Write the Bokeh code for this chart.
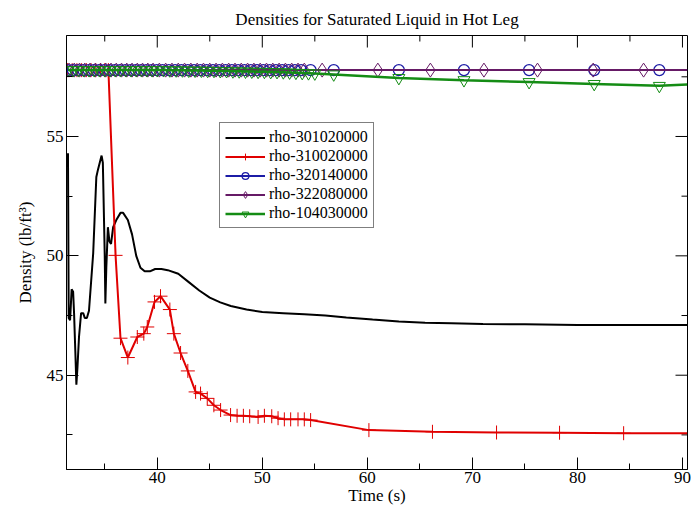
import math
from bokeh.plotting import figure
from bokeh.models import (Range1d, LinearAxis, FixedTicker, Legend, LegendItem)
from bokeh.embed import file_html
from bokeh.resources import INLINE

FONT = "Liberation Serif"

TITLE = "Densities for Saturated Liquid in Hot Leg"
X_LABEL = "Time (s)"
Y_LABEL = "Density (lb/ft\u00b3)"

X_MAJOR = [40, 50, 60, 70, 80, 90]
X_MINOR = [35, 45, 55, 65, 75, 85]
Y_MAJOR = [45, 50, 55]
Y_MINOR = [42.5, 47.5, 52.5, 57.5]

# rho-301020000 (black, no markers)
BLACK_T = [31.50, 31.57, 31.70, 31.85, 31.99, 32.08, 32.20, 32.30, 32.40, 32.55, 32.75,
           32.95, 33.10, 33.30, 33.50, 33.90, 34.20, 34.35, 34.70, 34.82, 35.00, 35.06,
           35.15, 35.30, 35.45, 35.60, 35.80, 36.10, 36.50, 36.75, 37.20, 37.60, 38.00,
           38.40, 38.80, 39.30, 39.80, 40.40, 41.00, 42.00, 43.00, 44.00, 45.00, 46.00,
           47.00, 48.50, 50.00, 52.00, 54.00, 56.00, 58.00, 60.50, 63.00, 65.50, 68.00,
           71.00, 75.00, 80.00, 85.00, 90.45]
BLACK_Y = [54.30, 47.40, 47.30, 48.60, 48.50, 47.60, 46.00, 44.60, 45.30, 46.60, 47.60,
           47.60, 47.40, 47.40, 47.70, 50.10, 53.30, 53.60, 54.20, 53.90, 50.00, 48.00,
           49.50, 51.20, 50.60, 50.50, 51.20, 51.50, 51.80, 51.80, 51.50, 50.90, 50.00,
           49.50, 49.35, 49.35, 49.45, 49.45, 49.40, 49.25, 48.90, 48.55, 48.25, 48.05,
           47.90, 47.75, 47.65, 47.60, 47.55, 47.50, 47.42, 47.33, 47.25, 47.20, 47.18,
           47.15, 47.13, 47.10, 47.10, 47.10]

# rho-310020000 (red, plus markers)
RED_T = [31.45, 31.90, 32.35, 32.80, 33.25, 33.70, 34.15, 34.60, 35.00, 35.35, 36.03,
         36.50, 37.20, 38.10, 38.72, 39.05, 39.74, 40.31, 41.20, 41.58, 42.22, 42.91,
         43.65, 44.12, 44.76, 45.39, 46.03, 46.98, 47.60, 48.20, 48.80, 49.60, 50.20,
         50.90, 51.50, 52.10, 52.70, 53.40, 54.00, 54.60, 60.15, 66.20, 72.30, 78.30,
         84.40, 90.45]
RED_Y = [57.78, 57.78, 57.78, 57.78, 57.78, 57.78, 57.78, 57.78, 57.78, 57.78, 50.02,
         46.55, 45.74, 46.60, 46.74, 47.02, 48.07, 48.31, 47.75, 46.74, 45.93, 45.18,
         44.30, 44.23, 44.03, 43.74, 43.54, 43.33, 43.30, 43.30, 43.28, 43.25, 43.30,
         43.28, 43.20, 43.15, 43.15, 43.15, 43.15, 43.12, 42.70, 42.63, 42.60, 42.59,
         42.57, 42.57]

# rho-320140000 (blue, circles)
BLUE_T = [31.45, 31.95, 32.45, 32.95, 33.45, 33.95, 34.45, 34.95, 35.45, 35.95, 36.45,
          36.95, 37.45, 37.95, 38.45, 38.95, 39.45, 39.95, 40.50, 41.10, 41.70, 42.30,
          42.90, 43.50, 44.10, 44.70, 45.30, 45.90, 46.50, 47.10, 47.70, 48.30, 48.90,
          49.50, 50.10, 50.70, 51.30, 51.90, 52.50, 53.10, 53.70, 54.60, 56.80, 63.00,
          69.20, 75.40, 81.60, 87.80, 90.45]
BLUE_Y = [57.78, 57.78, 57.78, 57.78, 57.78, 57.78, 57.78, 57.78, 57.78, 57.78, 57.78,
          57.78, 57.78, 57.78, 57.78, 57.78, 57.78, 57.78, 57.78, 57.78, 57.78, 57.78,
          57.78, 57.78, 57.78, 57.78, 57.78, 57.78, 57.78, 57.78, 57.78, 57.78, 57.78,
          57.78, 57.78, 57.78, 57.78, 57.78, 57.78, 57.78, 57.78, 57.78, 57.78, 57.78,
          57.78, 57.78, 57.78, 57.78, 57.78]

# rho-322080000 (purple, diamonds)
PURPLE_T = [31.60, 32.10, 32.60, 33.10, 33.60, 34.10, 34.60, 35.10, 35.60, 36.10, 36.60,
            37.10, 37.60, 38.10, 38.60, 39.10, 39.60, 40.20, 40.80, 41.40, 42.00, 42.60,
            43.20, 43.80, 44.40, 45.00, 45.60, 46.20, 46.80, 47.40, 48.00, 48.60, 49.20,
            49.80, 50.40, 51.00, 51.60, 52.20, 52.80, 53.40, 54.00, 55.70, 61.00, 66.00,
            71.10, 76.20, 81.50, 86.30, 90.45]
PURPLE_Y = [57.78, 57.78, 57.78, 57.78, 57.78, 57.78, 57.78, 57.78, 57.78, 57.78, 57.78,
            57.78, 57.78, 57.78, 57.78, 57.78, 57.78, 57.78, 57.78, 57.78, 57.78, 57.78,
            57.78, 57.78, 57.78, 57.78, 57.78, 57.78, 57.78, 57.78, 57.78, 57.78, 57.78,
            57.78, 57.78, 57.78, 57.78, 57.78, 57.78, 57.78, 57.78, 57.78, 57.78, 57.78,
            57.78, 57.78, 57.78, 57.78, 57.78]

# rho-104030000 (green, down triangles)
GREEN_T = [31.50, 32.00, 32.50, 33.00, 33.50, 34.00, 34.50, 35.00, 35.50, 36.00, 36.50,
           37.00, 37.50, 38.00, 38.50, 39.00, 39.50, 40.00, 40.60, 41.20, 41.80, 42.40,
           43.00, 43.60, 44.20, 44.80, 45.40, 46.00, 46.60, 47.20, 47.80, 48.40, 49.00,
           49.60, 50.20, 50.80, 51.40, 52.00, 52.60, 53.20, 53.80, 54.40, 55.00, 56.80,
           63.00, 69.20, 75.40, 81.60, 87.80, 90.45]
GREEN_Y = [57.78, 57.78, 57.78, 57.78, 57.78, 57.78, 57.78, 57.78, 57.78, 57.78, 57.78,
           57.78, 57.78, 57.78, 57.78, 57.78, 57.78, 57.78, 57.78, 57.77, 57.77, 57.77,
           57.76, 57.76, 57.76, 57.75, 57.75, 57.74, 57.74, 57.73, 57.73, 57.72, 57.72,
           57.71, 57.71, 57.70, 57.70, 57.69, 57.68, 57.67, 57.66, 57.65, 57.64, 57.60,
           57.45, 57.36, 57.28, 57.20, 57.12, 57.18]

NAMES = ["rho-301020000", "rho-310020000", "rho-320140000", "rho-322080000", "rho-104030000"]

BLACK = "#000000"
RED = "#e00000"
BLUE = "#1c1ca6"
PURPLE = "#661a66"
GREEN = "#148c14"

X0, X1 = 31.36, 90.48
Y0, Y1 = 41.05, 59.23

p = figure(width=692, height=510, output_backend="svg", toolbar_location=None,
           x_range=Range1d(X0, X1), y_range=Range1d(Y0, Y1),
           x_axis_type=None, y_axis_type=None,
           min_border_left=66, min_border_right=5, min_border_top=35, min_border_bottom=41)

p.background_fill_color = "white"
p.border_fill_color = "white"
p.outline_line_color = "black"
p.outline_line_width = 1

p.title.text = TITLE
p.title.align = "center"
p.title.text_font = FONT
p.title.text_font_size = "17px"
p.title.text_font_style = "normal"
p.title.text_color = "black"
p.title.standoff = 14


def style_axis(ax):
    ax.axis_line_color = "black"
    ax.axis_line_width = 1
    ax.major_tick_in = 12
    ax.major_tick_out = 0
    ax.minor_tick_in = 6
    ax.minor_tick_out = 0
    ax.major_tick_line_color = "black"
    ax.minor_tick_line_color = "black"
    ax.major_label_text_font = FONT
    ax.major_label_text_color = "black"
    ax.major_label_text_font_size = "17px"
    ax.major_label_standoff = 3
    ax.axis_label_text_font = FONT
    ax.axis_label_text_font_style = "normal"
    ax.axis_label_text_font_size = "17px"
    ax.axis_label_text_color = "black"


xb = LinearAxis(ticker=FixedTicker(ticks=X_MAJOR, minor_ticks=X_MINOR), axis_label=X_LABEL)
style_axis(xb)
xb.major_label_standoff = 2
xb.axis_label_standoff = 0
p.add_layout(xb, "below")

yl = LinearAxis(ticker=FixedTicker(ticks=Y_MAJOR, minor_ticks=Y_MINOR), axis_label=Y_LABEL)
style_axis(yl)
yl.axis_label_standoff = 9
p.add_layout(yl, "left")

# mirrored inward ticks on the top and right frame edges
p.ray(x=X_MAJOR, y=[Y1] * len(X_MAJOR), length=12, length_units="screen",
      angle=-math.pi / 2, line_color="black", line_width=1)
p.ray(x=X_MINOR, y=[Y1] * len(X_MINOR), length=6, length_units="screen",
      angle=-math.pi / 2, line_color="black", line_width=1)
p.ray(x=[X1] * len(Y_MAJOR), y=Y_MAJOR, length=12, length_units="screen",
      angle=math.pi, line_color="black", line_width=1)
p.ray(x=[X1] * len(Y_MINOR), y=Y_MINOR, length=6, length_units="screen",
      angle=math.pi, line_color="black", line_width=1)

r_black = p.line(BLACK_T, BLACK_Y, line_color=BLACK, line_width=2)

r_red = p.line(RED_T, RED_Y, line_color=RED, line_width=2)
m_red = p.scatter(RED_T[:-1], RED_Y[:-1], marker="cross", size=14, line_color=RED, line_width=1)

r_blue = p.line(BLUE_T, BLUE_Y, line_color=BLUE, line_width=2)
m_blue = p.scatter(BLUE_T[:-1], BLUE_Y[:-1], marker="circle", size=11, line_color=BLUE,
                   fill_color=None, line_width=1.3)

r_purple = p.line(PURPLE_T, PURPLE_Y, line_color=PURPLE, line_width=2)
m_purple = p.scatter(PURPLE_T[:-1], PURPLE_Y[:-1], marker="diamond", size=14, line_color=PURPLE,
                     fill_color=None, line_width=1)

r_green = p.line(GREEN_T, GREEN_Y, line_color=GREEN, line_width=2.5)
m_green = p.scatter(GREEN_T[:-1], GREEN_Y[:-1], marker="inverted_triangle", size=12,
                    line_color=GREEN, fill_color=None, line_width=1)

legend = Legend(items=[
    LegendItem(label=NAMES[0], renderers=[r_black]),
    LegendItem(label=NAMES[1], renderers=[r_red, m_red]),
    LegendItem(label=NAMES[2], renderers=[r_blue, m_blue]),
    LegendItem(label=NAMES[3], renderers=[r_purple, m_purple]),
    LegendItem(label=NAMES[4], renderers=[r_green, m_green]),
], location=(153, 241))
legend.label_text_font = FONT
legend.label_text_font_size = "16px"
legend.label_text_color = "black"
legend.glyph_width = 40
legend.glyph_height = 17
legend.spacing = 1
legend.padding = 5
legend.margin = 0
legend.label_standoff = 4
legend.label_height = 17
legend.border_line_color = "black"
legend.border_line_width = 1
legend.background_fill_color = "white"
legend.background_fill_alpha = 1
p.add_layout(legend)

open("out.html", "w").write(file_html(p, INLINE))
